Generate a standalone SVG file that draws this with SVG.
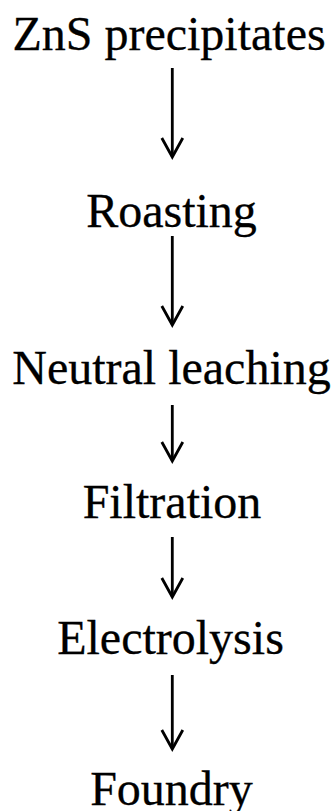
<svg xmlns="http://www.w3.org/2000/svg" width="335" height="811" viewBox="0 0 335 811">
<style>
.lbl{font-family:"Liberation Serif","Times New Roman",serif;font-size:48px;fill:#000;stroke:#000;stroke-width:0.3;text-anchor:middle}
.arr{stroke:#000;stroke-width:2.8;fill:none;marker-end:url(#ah)}
</style>
<defs>
<marker id="ah" markerUnits="userSpaceOnUse" viewBox="-24 -13 28 26" markerWidth="28" markerHeight="26" refX="0" refY="0" orient="auto">
<path d="M-19,-10.5 L0,0 L-19,10.5" fill="none" stroke="#000" stroke-width="2.8" stroke-linejoin="miter"/>
</marker>
</defs>
<rect width="335" height="811" fill="#fff"/>
<g id="n1"><text class="lbl" x="169" y="50">ZnS precipitates</text></g>
<g id="n2"><text class="lbl" x="171.5" y="227">Roasting</text></g>
<g id="n3"><text class="lbl" x="171.5" y="384">Neutral leaching</text></g>
<g id="n4"><text class="lbl" x="172" y="518">Filtration</text></g>
<g id="n5"><text class="lbl" x="170.5" y="654">Electrolysis</text></g>
<g id="n6"><text class="lbl" x="171.5" y="805">Foundry</text></g>
<g id="connectors">
<line class="arr" x1="172.3" y1="68" x2="172.3" y2="157"/>
<line class="arr" x1="172.3" y1="236" x2="172.3" y2="325"/>
<line class="arr" x1="172.3" y1="405" x2="172.3" y2="461"/>
<line class="arr" x1="172.3" y1="537" x2="172.3" y2="597"/>
<line class="arr" x1="172.3" y1="675" x2="172.3" y2="749"/>
</g>
</svg>
